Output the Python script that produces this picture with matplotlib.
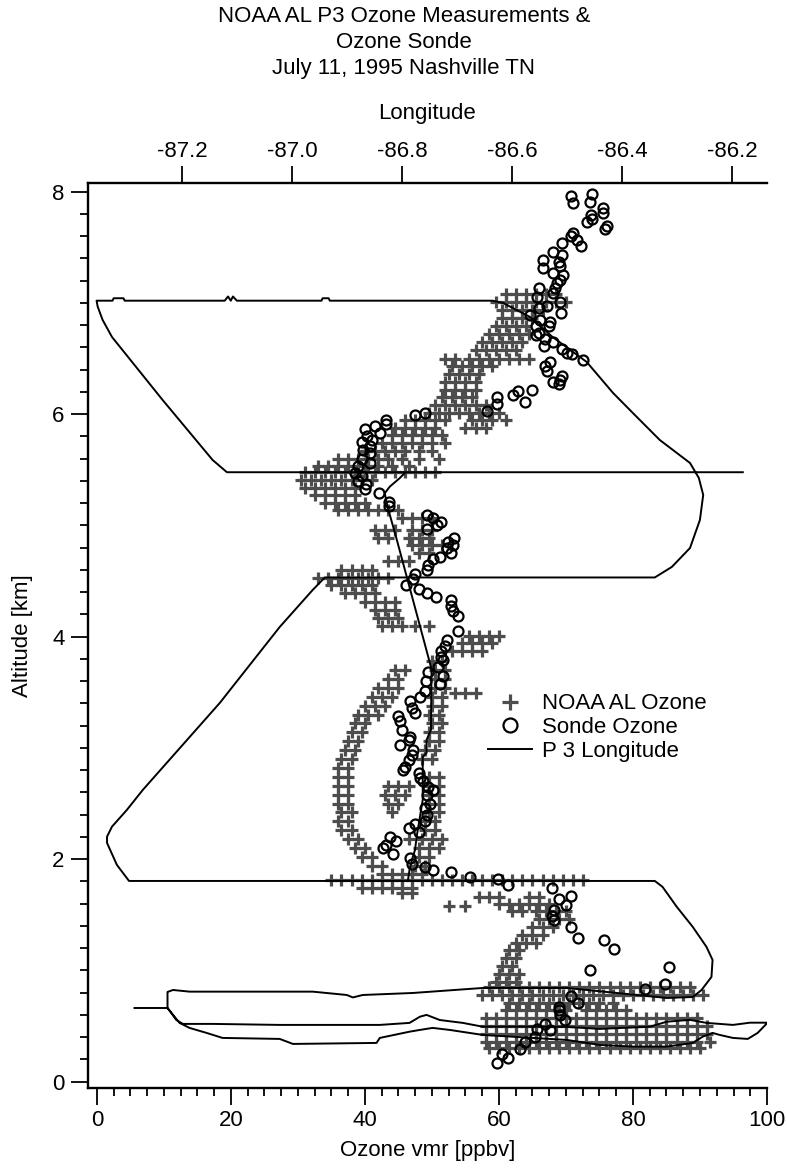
import matplotlib
matplotlib.use("Agg")
import matplotlib.pyplot as plt
from matplotlib.ticker import MultipleLocator, FormatStrFormatter

plt.rcParams['font.family'] = ['Liberation Sans', 'DejaVu Sans']
plt.rcParams['axes.unicode_minus'] = False

title_lines = ["NOAA AL P3 Ozone Measurements &", "Ozone Sonde", "July 11, 1995 Nashville TN"]
lon_ticks = [-87.2, -87.0, -86.8, -86.6, -86.4, -86.2]
o3_ticks = [0, 20, 40, 60, 80, 100]
alt_ticks = [0, 2, 4, 6, 8]
labels = ["NOAA AL Ozone", "Sonde Ozone", "P 3 Longitude"]

# aircraft ozone, rows of (altitude km, [ozone ppbv ...])
noaa_upper = [
    (7.08, [61, 62.5, 64, 65.5, 67, 68.5]),
    (7.01, [59.5, 61, 62.5, 64, 65.5, 67, 68.5, 70]),
    (6.94, [60.5, 62, 63.5, 65, 66.5]),
    (6.86, [60.5, 62, 63.5, 65]),
    (6.79, [59.5, 61, 62.5, 64]),
    (6.72, [58.5, 60, 61.5, 63, 64.5]),
    (6.65, [57.5, 59, 60.5, 62, 63.5]),
    (6.58, [56.5, 58, 59.5, 61, 62.5]),
    (6.50, [52, 53.5, 55.5, 57, 58.5, 60, 61.5, 63, 64.5]),
    (6.43, [53, 54.5, 56, 57.5, 59]),
    (6.36, [52.5, 54, 55.5, 57]),
    (6.29, [52, 53.5, 55, 56.5]),
    (6.22, [52, 53.5, 55, 56.5]),
    (6.15, [51.5, 53, 54.5, 56]),
    (6.08, [50.5, 52, 53.5, 55, 56.5, 58]),
    (6.01, [49.5, 51, 52.5, 54, 55.5, 57, 58.5, 60]),
    (5.95, [46, 47.5, 49, 50.5, 52, 56, 57.5, 59, 61]),
    (5.88, [44.5, 46, 47.5, 49, 50.5, 55, 56.5, 58]),
    (5.81, [44, 45.5, 47, 48.5, 50, 51.5]),
    (5.74, [42.5, 44, 45.5, 47, 48.5, 50, 52]),
    (5.67, [40, 41.5, 43, 44.5, 46, 48, 50]),
    (5.60, [36, 37.5, 39, 40.5, 42, 43.5, 45.5, 48, 51]),
    (5.53, [33, 34.5, 36, 37.5, 39, 40.5, 42, 44, 46.5]),
    (5.48, [31, 32.5, 34, 35.5, 37, 38.5, 40, 41.5, 43, 44.5, 46, 47.5, 49, 50.5]),
    (5.41, [30.5, 32, 33.5, 35, 36.5, 38, 39.5, 41]),
    (5.34, [31, 32.5, 34, 35.5, 37, 38.5]),
    (5.27, [32.5, 34, 35.5, 37, 38.5]),
    (5.20, [34, 35.5, 37, 38.5, 40]),
    (5.14, [36, 37.5, 39, 40.5, 42, 43.5, 45]),
]
noaa_middle = [
    (5.07, [45.5, 47, 48.5, 50]),
    (4.96, [41.5, 43, 44.5, 47, 48.5, 50]),
    (4.89, [42, 43.5, 46.5, 48, 49.5]),
    (4.82, [47, 48.5, 50, 51.5]),
    (4.75, [48, 49.5]),
    (4.68, [43.5, 45, 46.5]),
    (4.60, [36.5, 38, 39.5, 41]),
    (4.53, [33, 34.5, 36, 37.5, 39, 40.5, 42, 43.5]),
    (4.46, [35, 36.5, 38, 39.5, 41]),
    (4.39, [37, 38.5, 40, 41.5]),
    (4.31, [40, 41.5, 43, 44.5]),
    (4.24, [41.5, 43, 44.5]),
    (4.17, [42, 43.5, 45]),
    (4.10, [42.5, 44, 45.5, 47.5, 49.5]),
    (4.01, [55.5, 57, 58.5, 60]),
    (3.94, [54.5, 56, 57.5, 59]),
    (3.87, [53, 54.5, 56, 57.5]),
]
noaa_lower = [
    (3.78, [50, 51.5]),
    (3.70, [44.5, 46, 50.5, 52]),
    (3.62, [43.5, 45, 50.5, 52]),
    (3.54, [42, 43.5, 45, 50.5, 52]),
    (3.49, [53.5, 55, 56.5]),
    (3.46, [41, 42.5, 44, 50, 51.5]),
    (3.38, [40, 41.5, 43, 50, 51.5]),
    (3.30, [39, 40.5, 42, 49.5, 51]),
    (3.22, [38.5, 40, 50, 51.5]),
    (3.14, [38, 39.5, 49.5, 51]),
    (3.06, [37.5, 39, 49.5, 51]),
    (2.98, [37, 38.5, 49, 50.5]),
    (2.90, [36.5, 38, 48.5, 50]),
    (2.82, [36, 37.5]),
    (2.74, [36, 37.5, 49.5, 51]),
    (2.66, [36, 37.5, 43.5, 45, 46.5, 49.5, 51]),
    (2.58, [36, 37.5, 43, 44.5, 46, 49.5, 51]),
    (2.50, [36, 37.5, 43.5, 45, 49.5, 51]),
    (2.42, [36.5, 38, 44, 49.5, 51]),
    (2.34, [36, 37.5, 49, 50.5]),
    (2.26, [36.5, 38, 49, 50.5]),
    (2.18, [37.5, 39, 46.5, 48.5, 50, 51.5]),
    (2.10, [38.5, 40, 48, 49.5, 51]),
    (2.02, [39.5, 41, 48, 49.5]),
    (1.94, [41, 42.5, 47.5, 49]),
    (1.87, [42.5, 44, 45.5, 47, 48.5]),
    (1.81, [35, 36.5, 38, 39.5, 41, 42.5, 44, 45.5, 47, 48.5, 50, 51.5, 53,
            54.5, 56, 57.5, 59, 60.5, 62, 63.5, 65, 66.5, 68, 69.5, 71, 72.5]),
    (1.74, [39.5, 41, 42.5, 44, 45.5, 47]),
]
noaa_bottom = [
    (1.70, [45.5, 47]),
    (1.66, [57, 58.5, 60, 64.5, 66]),
    (1.60, [60, 61.5, 63, 64.5, 66, 67.5]),
    (1.58, [52.5, 55]),
    (1.53, [62, 63.5, 65.5, 67, 68.5, 70]),
    (1.46, [66, 67.5, 69, 70.5]),
    (1.39, [65, 66.5, 68]),
    (1.32, [63.5, 65, 66.5]),
    (1.25, [62.5, 64, 65.5]),
    (1.18, [61.5, 63]),
    (1.11, [61, 62.5]),
    (1.04, [60.5, 62]),
    (0.97, [60, 61.5, 63]),
    (0.90, [59.5, 61, 62.5]),
    (0.85, [58.5, 60, 61.5, 63, 64.5, 66, 67.5, 69, 70.5, 72, 73.5, 75, 76.5,
            78, 79.5, 81, 82.5, 84, 85.5, 87, 88.5]),
    (0.78, [57.5, 59, 60.5, 62, 63.5, 65, 66.5, 68, 69.5, 71, 72.5, 74, 75.5,
            77, 78.5, 80, 81.5, 83, 84.5, 86, 87.5, 89, 90.5]),
    (0.71, [61.5, 63, 64.5, 66, 67.5, 69, 70.5, 72, 73.5, 75, 77]),
    (0.64, [61, 62.5, 64, 65.5, 67, 68.5, 70, 73, 74.5, 76, 77.5, 79]),
    (0.57, [58, 59.5, 61, 62.5, 64, 65.5, 67, 68.5, 70, 71.5, 73, 74.5, 76,
            77.5, 79, 80.5, 82, 83.5, 85, 86.5, 88, 89.5]),
    (0.50, [58, 59.5, 61, 62.5, 64, 65.5, 67, 68.5, 70, 71.5, 73, 74.5, 76,
            77.5, 79, 80.5, 82, 83.5, 85, 86.5, 88, 89.5, 91]),
    (0.43, [58, 59.5, 61, 62.5, 64, 65.5, 67, 68.5, 70, 71.5, 73, 74.5, 76,
            77.5, 79, 80.5, 82, 83.5, 85, 86.5, 88, 89.5, 91]),
    (0.36, [58, 59.5, 61, 62.5, 64, 65.5, 67, 68.5, 70, 71.5, 73, 74.5, 76,
            77.5, 79, 80.5, 82, 83.5, 85, 86.5, 88, 89.5, 91.5]),
    (0.30, [58.5, 60, 61.5, 63, 64.5, 66, 67.5, 69, 70.5, 72, 73.5, 75, 76.5,
            78, 79.5, 81, 82.5, 84, 85.5, 87, 88.5, 90]),
]

# sonde ozone (ppbv, km)
sonde = [
    (70.7, 7.96), (71.0, 7.90), (73.9, 7.98), (73.6, 7.91), (75.5, 7.85), (75.5, 7.81),
    (73.7, 7.79), (73.9, 7.75), (73.2, 7.73), (76.1, 7.69), (75.8, 7.66), (71.0, 7.63),
    (70.8, 7.60), (71.6, 7.57), (72.2, 7.51), (69.4, 7.54), (68.1, 7.46), (69.4, 7.43),
    (66.5, 7.39), (66.5, 7.31), (69.0, 7.37), (69.1, 7.33), (68.1, 7.27), (69.6, 7.25),
    (69.1, 7.21), (68.6, 7.18), (68.4, 7.13), (66.0, 7.13), (68.1, 7.09), (65.7, 7.05),
    (69.1, 7.01), (67.1, 6.97), (65.9, 6.95), (69.3, 6.91), (64.6, 6.89), (66.1, 6.85),
    (67.6, 6.83), (67.4, 6.79), (65.6, 6.79), (65.9, 6.73), (65.6, 6.71), (66.9, 6.68),
    (68.1, 6.65), (66.7, 6.61), (69.4, 6.59), (70.1, 6.55), (70.9, 6.54), (72.6, 6.49),
    (67.6, 6.47), (66.9, 6.43), (67.1, 6.39), (69.4, 6.34), (69.1, 6.31), (68.1, 6.29),
    (68.9, 6.27), (65.0, 6.22), (62.9, 6.21), (62.1, 6.17), (63.9, 6.11), (59.7, 6.15),
    (59.7, 6.09), (58.2, 6.03), (49.0, 6.01), (47.5, 5.99), (43.1, 5.95), (43.1, 5.91),
    (41.5, 5.89), (40.0, 5.87), (42.3, 5.83), (40.3, 5.80), (41.0, 5.77), (39.5, 5.75),
    (40.7, 5.71), (39.7, 5.68), (40.7, 5.65), (39.5, 5.60), (40.7, 5.56), (39.0, 5.53),
    (38.5, 5.47), (39.5, 5.44), (39.0, 5.40), (40.1, 5.37), (40.0, 5.33), (42.1, 5.29),
    (43.6, 5.21), (43.6, 5.17), (49.2, 5.09), (50.1, 5.07), (51.4, 5.03), (49.2, 4.97),
    (50.7, 5.00), (53.3, 4.89), (52.4, 4.85), (53.2, 4.82), (52.2, 4.80), (52.9, 4.75),
    (51.2, 4.72), (50.2, 4.70), (49.4, 4.64), (49.2, 4.60), (47.5, 4.56), (47.2, 4.52),
    (46.2, 4.46), (48.0, 4.43), (49.2, 4.39), (50.6, 4.36), (52.8, 4.33), (52.9, 4.28),
    (53.1, 4.23), (53.9, 4.19), (53.9, 4.05), (52.2, 3.97), (51.9, 3.92), (51.4, 3.87),
    (51.4, 3.82), (51.7, 3.79), (50.9, 3.73), (49.4, 3.68), (51.7, 3.65), (51.2, 3.57),
    (49.1, 3.60), (49.0, 3.51), (48.2, 3.46), (46.7, 3.42), (47.0, 3.36), (47.5, 3.31),
    (45.0, 3.29), (45.2, 3.24), (45.5, 3.16), (46.7, 3.10), (46.5, 3.07), (45.2, 3.03),
    (47.2, 2.98), (47.0, 2.94), (46.5, 2.89), (46.0, 2.83), (45.7, 2.80), (48.0, 2.77),
    (48.2, 2.73), (48.7, 2.70), (49.4, 2.65), (50.2, 2.62), (49.2, 2.58), (49.7, 2.50),
    (49.0, 2.46), (49.2, 2.40), (49.0, 2.34), (47.5, 2.32), (46.5, 2.28), (48.0, 2.24),
    (43.7, 2.20), (44.7, 2.16), (43.2, 2.13), (42.7, 2.10), (44.2, 2.05), (46.7, 2.01),
    (47.0, 1.96), (48.9, 1.93), (50.2, 1.90), (52.8, 1.88), (55.7, 1.84), (59.9, 1.82),
    (61.4, 1.77), (67.9, 1.74), (70.7, 1.67), (69.0, 1.64), (70.0, 1.59), (68.2, 1.54),
    (67.9, 1.49), (68.2, 1.45), (70.7, 1.39), (71.8, 1.29), (75.7, 1.27), (77.2, 1.19),
    (73.6, 1.00), (85.4, 1.03), (84.8, 0.88), (81.8, 0.83), (70.7, 0.77), (71.8, 0.71),
    (69.0, 0.67), (69.0, 0.64), (69.1, 0.60), (69.8, 0.55), (66.9, 0.52), (65.7, 0.47),
    (67.6, 0.46), (65.4, 0.40), (63.9, 0.36), (63.2, 0.29), (60.4, 0.25), (61.4, 0.21),
    (59.7, 0.17),
]

# P3 flight track (longitude, km), three pieces
track_main = [
    (-87.227, 0.662), (-87.227, 0.734), (-87.227, 0.806), (-87.217, 0.824),
    (-87.187, 0.809), (-87.083, 0.809), (-86.963, 0.809), (-86.901, 0.779),
    (-86.890, 0.757), (-86.872, 0.779), (-86.781, 0.797), (-86.654, 0.842),
    (-86.501, 0.842), (-86.410, 0.797), (-86.319, 0.752), (-86.272, 0.761),
    (-86.256, 0.824), (-86.238, 0.941), (-86.236, 1.094), (-86.247, 1.211),
    (-86.272, 1.391), (-86.301, 1.571), (-86.327, 1.751), (-86.341, 1.804),
    (-87.297, 1.804), (-87.319, 1.948), (-87.337, 2.146), (-87.337, 2.202),
    (-87.328, 2.292), (-87.301, 2.442), (-87.272, 2.622), (-87.132, 3.404),
    (-87.023, 4.087), (-86.963, 4.420), (-86.941, 4.532), (-86.341, 4.532),
    (-86.310, 4.627), (-86.277, 4.797), (-86.259, 5.049), (-86.253, 5.274),
    (-86.261, 5.427), (-86.277, 5.561), (-86.332, 5.768), (-86.381, 6.011),
    (-86.417, 6.191), (-86.465, 6.470), (-86.527, 6.694), (-86.568, 6.874),
    (-86.617, 7.000), (-86.636, 7.020), (-86.932, 7.020), (-86.934, 7.042),
    (-86.945, 7.042), (-86.947, 7.020), (-87.101, 7.020), (-87.108, 7.058),
    (-87.112, 7.020), (-87.117, 7.058), (-87.123, 7.020), (-87.305, 7.020),
    (-87.307, 7.042), (-87.325, 7.042), (-87.327, 7.020), (-87.356, 7.020),
    (-87.354, 6.967), (-87.345, 6.847), (-87.328, 6.694), (-87.236, 6.128),
    (-87.145, 5.588), (-87.119, 5.478), (-86.181, 5.478),
]
track_centre = [
    (-86.796, 5.469), (-86.805, 5.424), (-86.823, 5.348), (-86.832, 5.289),
    (-86.827, 5.169), (-86.810, 4.869), (-86.750, 3.764), (-86.747, 3.701),
    (-86.748, 3.162), (-86.756, 3.072), (-86.756, 2.955), (-86.763, 2.919),
    (-86.763, 2.532), (-86.771, 2.292), (-86.774, 2.202), (-86.777, 2.082),
    (-86.781, 2.022), (-86.787, 1.903), (-86.790, 1.804),
]
track_low = [
    (-87.287, 0.662), (-87.227, 0.662), (-87.220, 0.617), (-87.211, 0.554),
    (-87.199, 0.519), (-87.145, 0.519), (-87.023, 0.510), (-86.841, 0.510),
    (-86.787, 0.528), (-86.768, 0.584), (-86.756, 0.600), (-86.732, 0.554),
    (-86.690, 0.528), (-86.654, 0.494), (-86.563, 0.494), (-86.501, 0.492),
    (-86.441, 0.474), (-86.350, 0.494), (-86.319, 0.539), (-86.277, 0.555),
    (-86.247, 0.528), (-86.199, 0.510), (-86.168, 0.530), (-86.136, 0.530),
    (-86.154, 0.438), (-86.172, 0.384), (-86.199, 0.393), (-86.223, 0.420),
    (-86.236, 0.438), (-86.254, 0.404), (-86.272, 0.348), (-86.319, 0.315),
    (-86.381, 0.315), (-86.441, 0.330), (-86.501, 0.375), (-86.563, 0.393),
    (-86.654, 0.420), (-86.714, 0.465), (-86.745, 0.483), (-86.768, 0.465),
    (-86.787, 0.449), (-86.841, 0.393), (-86.847, 0.348), (-86.999, 0.339),
    (-87.023, 0.384), (-87.127, 0.393), (-87.156, 0.438), (-87.187, 0.483),
    (-87.205, 0.528), (-87.217, 0.600), (-87.227, 0.662),
]

gray = '#4d4d4d'
fs = 16

fig = plt.figure(figsize=(7.87, 11.7), dpi=100)
ax = fig.add_axes([0.1118, 0.0701, 0.8628, 0.7735])

# aircraft ozone crosses
nx, ny = [], []
for rows in (noaa_upper, noaa_middle, noaa_lower, noaa_bottom):
    for alt, vals in rows:
        for v in vals:
            nx.append(v)
            ny.append(alt)
h_noaa, = ax.plot(nx, ny, ls='none', marker='+', ms=8.5, mew=2.3, color=gray)

sx = [p[0] for p in sonde]
sy = [p[1] for p in sonde]
h_sonde, = ax.plot(sx, sy, ls='none', marker='o', ms=7.2, mew=1.6, mfc='none', mec='black')

ax.set_xlim(-1.33, 100)
ax.set_ylim(-0.057, 8.078)
ax.set_xticks(o3_ticks)
ax.set_yticks(alt_ticks)
ax.xaxis.set_minor_locator(MultipleLocator(2.5))
ax.yaxis.set_minor_locator(MultipleLocator(0.2))
ax.tick_params(which='major', length=12, width=1.3, labelsize=fs, direction='out')
ax.tick_params(which='minor', length=6, width=1.3, direction='out')
ax.tick_params(axis='x', which='major', pad=4)
ax.tick_params(axis='y', which='major', pad=5)
ax.spines['right'].set_visible(False)
ax.spines['top'].set_visible(False)
for s in ('left', 'bottom'):
    ax.spines[s].set_linewidth(1.7)
ax.set_xlabel('Ozone vmr [ppbv]', fontsize=fs, labelpad=6)
ax.set_ylabel('Altitude [km]', fontsize=fs, labelpad=14)

# longitude on the top axis
ax2 = ax.twiny()
h_track = None
for seg in (track_main, track_centre, track_low):
    h_track, = ax2.plot([p[0] for p in seg], [p[1] for p in seg], color='black', lw=1.4)
ax2.set_xlim(-87.3716, -86.137)
ax2.set_xticks(lon_ticks)
ax2.xaxis.set_major_formatter(FormatStrFormatter('%.1f'))
ax2.tick_params(axis='x', length=12, width=1.3, labelsize=fs, direction='out', pad=3)
for s in ('right', 'left', 'bottom'):
    ax2.spines[s].set_visible(False)
ax2.spines['top'].set_linewidth(1.7)
ax2.set_xlabel('Longitude', fontsize=fs, labelpad=16)

ax2.legend([h_noaa, h_sonde, h_track], labels, loc='upper left',
           bbox_to_anchor=(0.589, 0.436), frameon=False, fontsize=fs,
           markerscale=1.4, handlelength=2.0, handletextpad=0.45,
           labelspacing=0.12, borderpad=0, borderaxespad=0)

fig.text(404 / 787, 1 - 6 / 1170, "\n".join(title_lines), ha='center', va='top',
         fontsize=fs, linespacing=1.3)

fig.savefig('out.png', dpi=100)
